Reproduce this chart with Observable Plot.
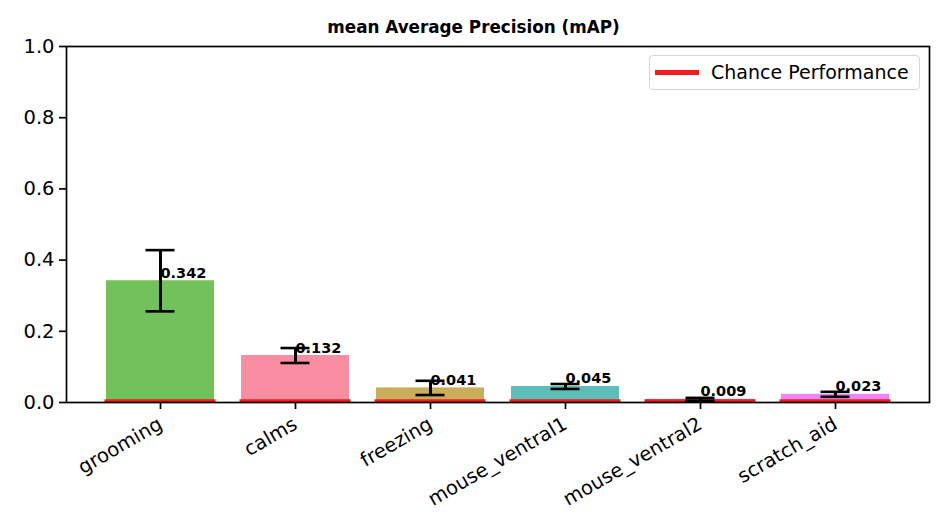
<!DOCTYPE html>
<html>
<head>
<meta charset="utf-8">
<script src="https://cdn.jsdelivr.net/npm/d3@7"></script>
<script src="https://cdn.jsdelivr.net/npm/@observablehq/plot@0.6"></script>
<style>
  body { margin: 0; background: #fff; font-family: "DejaVu Sans", sans-serif; }
  #wrap { position: relative; width: 947px; height: 530px; overflow: hidden; }
  #title { position: absolute; left: 0; top: 16px; width: 947px; text-align: center;
           font-weight: bold; font-size: 16.8px; line-height: 22px; color: #000; }
  #legend { position: absolute; left: 649px; top: 55px; width: 271px; height: 35px;
            border: 1.5px solid #d6d6d6; border-radius: 4px; background: rgba(255,255,255,0.85); box-sizing: border-box; }
  #legend .swatch { position: absolute; left: 5px; top: 14px; width: 44px; height: 5px; background: #f21c1c; }
  #legend .lbl { position: absolute; left: 61px; top: 4px; font-size: 19px; line-height: 24px; color: #000; white-space: nowrap; }
  svg g[aria-label="y-axis tick"] path, svg g[aria-label="x-axis tick"] path { stroke-width: 1.7px; }
</style>
</head>
<body>
<div id="wrap">
  <div id="chart"></div>
  <div id="title">mean Average Precision (mAP)</div>
  <div id="legend"><div class="swatch"></div><div class="lbl">Chance Performance</div></div>
</div>
<script>
const categories = ["grooming", "calms", "freezing", "mouse_ventral1", "mouse_ventral2", "scratch_aid"];
const mAP = [0.342, 0.132, 0.041, 0.045, 0.009, 0.023];
const errors = [0.086, 0.021, 0.020, 0.007, 0.004, 0.007];
const chance = [0.005, 0.005, 0.005, 0.005, 0.005, 0.005];
const barColors = ["#50b131", "#f77189", "#bb9832", "#36ada4", "#3ba3ec", "#e866f4"];
const yTicks = [0, 0.2, 0.4, 0.6, 0.8, 1.0];

const data = categories.map((c, i) => ({
  cat: c, v: mAP[i], lo: mAP[i] - errors[i], hi: mAP[i] + errors[i], chance: chance[i]
}));

const chart = Plot.plot({
  width: 947,
  height: 530,
  marginLeft: 66,
  marginRight: 18,
  marginTop: 46,
  marginBottom: 128,
  style: { fontFamily: "DejaVu Sans, sans-serif", fontSize: "19.5px", color: "#000", background: "#fff" },
  x: { domain: categories, paddingInner: 0.2, paddingOuter: 0.29, tickRotate: -30, tickSize: 7, tickPadding: 13, label: null },
  y: { domain: [0, 1], ticks: yTicks, tickFormat: d3.format(".1f"), tickSize: 7, tickPadding: 5, label: null },
  color: { domain: categories, range: barColors },
  marks: [
    Plot.barY(data, { x: "cat", y: "v", fill: "cat", fillOpacity: 0.8 }),
    Plot.tickY(data, { x: "cat", y: "chance", stroke: "#f21c1c", strokeWidth: 3, strokeLinecap: "square" }),
    Plot.ruleX(data, { x: "cat", y1: "lo", y2: "hi", stroke: "#000", strokeWidth: 3 }),
    Plot.tickY(data, { x: "cat", y: "lo", stroke: "#000", strokeWidth: 2.6, insetLeft: 39.5, insetRight: 39.5 }),
    Plot.tickY(data, { x: "cat", y: "hi", stroke: "#000", strokeWidth: 2.6, insetLeft: 39.5, insetRight: 39.5 }),
    Plot.text(data, { x: "cat", y: "v", text: d => d.v.toFixed(3), textAnchor: "start", lineAnchor: "bottom",
                      fontWeight: "bold", fontSize: 14.5, fill: "#000", dy: -3 }),
    Plot.frame({ stroke: "#000", strokeWidth: 1.7 })
  ]
});
document.getElementById("chart").appendChild(chart);
</script>
</body>
</html>
